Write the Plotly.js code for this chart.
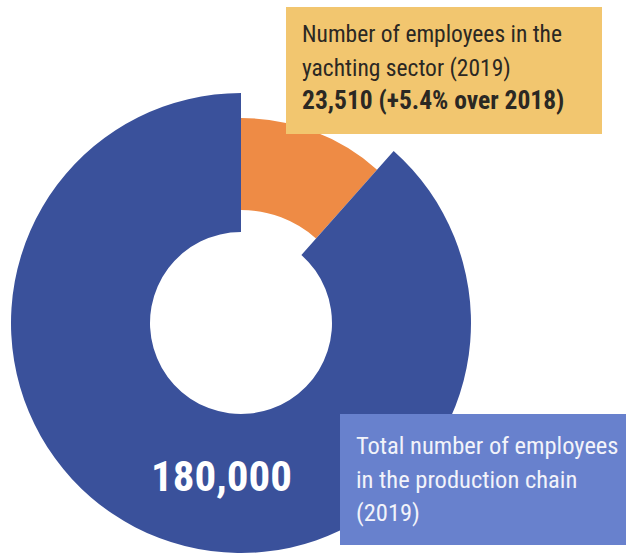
<!DOCTYPE html>
<html>
<head>
<meta charset="utf-8">
<script src="https://cdn.plot.ly/plotly-3.0.1.min.js"></script>
<style>
  html, body { margin: 0; padding: 0; background: #ffffff; }
  #chart { width: 628px; height: 553px; }
</style>
</head>
<body>
<div id="chart"></div>
<script>
// ---- data ----
const categories = ["Yachting sector", "Production chain"];
const employees = [23510, 180000];
const yachtingLabel = ["Number of employees in the", "yachting sector (2019)", "23,510 (+5.4% over 2018)"];
const chainLabel = ["Total number of employees", "in the production chain", "(2019)"];
const totalLabel = "180,000";

// ---- styling ----
const W = 628, H = 553;
const BLUE = "#3a519b";
const ORANGE = "#ee8b45";
const CLEAR = "rgba(0,0,0,0)";
const FONT = "'Roboto Condensed', 'DejaVu Sans Condensed', sans-serif";

function px(x) { return x / W; }
function py(y) { return 1 - y / H; }
function domainFor(cx, cy, r) {
  return { x: [px(cx - r), px(cx + r)], y: [Math.max(0, py(cy + r)), Math.min(1, py(cy - r))] };
}

const cx = 241, cy = 323;

const orangeTrace = {
  type: "pie",
  labels: categories,
  values: employees,
  sort: false,
  direction: "clockwise",
  rotation: 0,
  hole: 113 / 205,
  domain: domainFor(cx, cy, 205),
  marker: { colors: [ORANGE, CLEAR], line: { width: 0 } },
  textinfo: "none",
  hoverinfo: "skip",
  showlegend: false
};

const blueTrace = {
  type: "pie",
  labels: categories,
  values: employees,
  sort: false,
  direction: "clockwise",
  rotation: 0,
  hole: 91 / 230,
  domain: domainFor(cx, cy, 230),
  marker: { colors: [CLEAR, BLUE], line: { width: 0 } },
  textinfo: "none",
  hoverinfo: "skip",
  showlegend: false
};

function rect(x0, y0, x1, y1, color) {
  return {
    type: "rect", xref: "paper", yref: "paper", layer: "above",
    x0: px(x0), x1: px(x1), y0: py(y1), y1: py(y0),
    fillcolor: color, line: { width: 0 }
  };
}

function line(text, x, y, size, color, bold) {
  return {
    xref: "paper", yref: "paper", x: px(x), y: py(y),
    xanchor: "left", yanchor: "middle", showarrow: false,
    text: bold ? "<b>" + text + "</b>" : text,
    font: { family: FONT, size: size, color: color }
  };
}

const annotations = [
  line(yachtingLabel[0], 300, 34, 23.5, "#2b2823", false),
  line(yachtingLabel[1], 300, 68, 23.5, "#2b2823", false),
  line(yachtingLabel[2], 300, 100, 25.5, "#2b2823", true),
  line(chainLabel[0], 354, 445, 24.5, "#f2f3fa", false),
  line(chainLabel[1], 354, 479, 24.5, "#f2f3fa", false),
  line(chainLabel[2], 354, 512, 24.5, "#f2f3fa", false),
  {
    xref: "paper", yref: "paper", x: px(222), y: py(476),
    xanchor: "center", yanchor: "middle", showarrow: false,
    text: "<b>" + totalLabel + "</b>",
    font: { family: FONT, size: 43, color: "#ffffff" }
  }
];

const layout = {
  width: W, height: H,
  margin: { l: 0, r: 0, t: 0, b: 0 },
  paper_bgcolor: "#ffffff",
  plot_bgcolor: "#ffffff",
  showlegend: false,
  shapes: [
    rect(286, 7, 602, 134, "#f2c66f"),
    rect(340, 414, 626, 545, "#6881cd")
  ],
  annotations: annotations
};

Plotly.newPlot("chart", [orangeTrace, blueTrace], layout, { staticPlot: true, displayModeBar: false });
</script>
</body>
</html>
